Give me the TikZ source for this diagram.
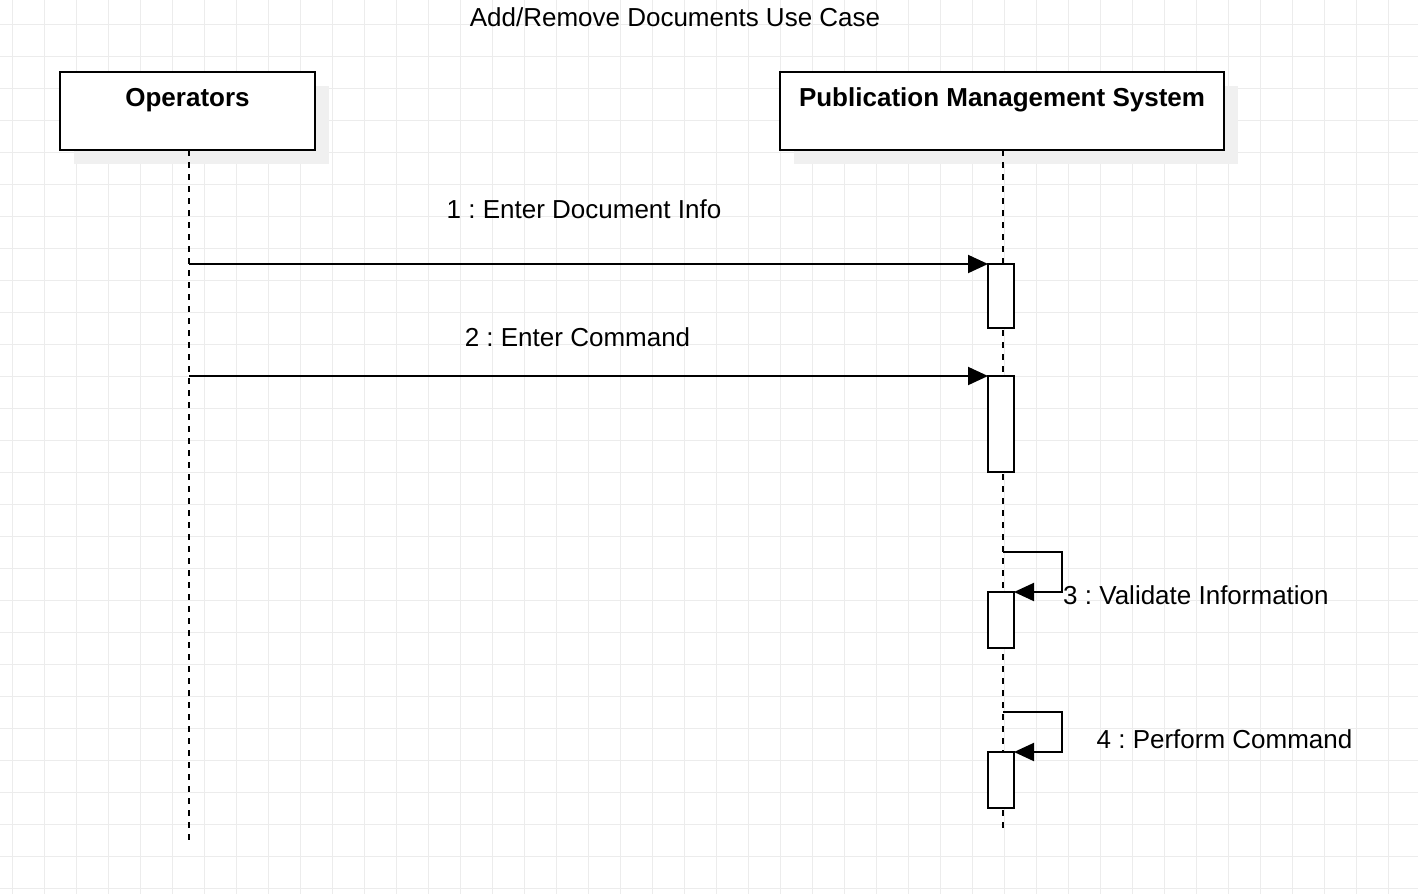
\documentclass[tikz,border=0pt]{standalone}
\usepackage{fontspec}
\setmainfont{Liberation Sans}
\frenchspacing
\usetikzlibrary{arrows.meta,shadows}
\definecolor{gridc}{RGB}{236,236,236}
\definecolor{shadowc}{RGB}{240,240,240}
\tikzset{
  gridline/.style={draw=gridc,line width=1pt},
  actorbox/.style={draw=black,fill=white,line width=2pt,inner sep=0pt,outer sep=0pt,
    drop shadow={shadow xshift=14pt,shadow yshift=-14pt,fill=shadowc,opacity=1}},
  lifeline/.style={draw=black,line width=2pt,dash pattern=on 6pt off 6pt},
  actbox/.style={draw=black,fill=white,line width=2pt,inner sep=0pt,outer sep=0pt,minimum width=26pt},
  msg/.style={draw=black,line width=2pt,-{Triangle[length=20pt,width=18pt]}},
  txt/.style={inner sep=0pt,font=\fontsize{26}{31}\selectfont},
  boldtxt/.style={inner sep=0pt,font=\fontsize{26}{31}\selectfont\bfseries},
}
\begin{document}
\begin{tikzpicture}[x=1pt,y=-1pt]
\useasboundingbox (0,0) rectangle (1418,894);
\fill[white] (0,0) rectangle (1418,894);
% grid
\foreach \i in {0,...,44} \draw[gridline] ({12.5+32*\i},0) -- ({12.5+32*\i},894);
\foreach \j in {0,...,27} \draw[gridline] (0,{24+32*\j}) -- (1418,{24+32*\j});
% title
\node[txt,anchor=base] (title) at (675,26) {Add/Remove Documents Use Case};
% actors
\node[actorbox,minimum width=255pt,minimum height=78pt] (op) at (187.5,111) {};
\node[boldtxt,anchor=base] (oplbl) at (187.5,106) {Operators};
\node[actorbox,minimum width=444pt,minimum height=78pt] (pms) at (1002,111) {};
\node[boldtxt,anchor=base] (pmslbl) at (1002,106) {Publication Management System};
% lifelines
\coordinate (opend) at (189,840);
\coordinate (pmsend) at (1003,830);
\draw[lifeline] (opend |- op.south) -- (opend);
\draw[lifeline] (pmsend |- pms.south) -- (pmsend);
% activations
\node[actbox,minimum height=64pt] (act1) at (1001,296) {};
\node[actbox,minimum height=96pt] (act2) at (1001,424) {};
\node[actbox,minimum height=56pt] (act3) at (1001,620) {};
\node[actbox,minimum height=56pt] (act4) at (1001,780) {};
% messages
\coordinate (m1) at (189,264);
\coordinate (m2) at (189,376);
\draw[msg] (m1) -- (act1.north west);
\draw[msg] (m2) -- (act2.north west);
\node[txt,anchor=base] (l1) at (584,218) {1 : Enter Document Info};
\node[txt,anchor=base] (l2) at (577.5,346) {2 : Enter Command};
% self messages
\coordinate (s3) at (1003,552);
\coordinate (t3) at (1062,592);
\draw[msg] (s3) -| (t3) -- (act3.north east);
\node[txt,anchor=base west] (l3) at (1063,604) {3 : Validate Information};
\coordinate (s4) at (1003,712);
\coordinate (t4) at (1062,752);
\draw[msg] (s4) -| (t4) -- (act4.north east);
\node[txt,anchor=base] (l4) at (1224.5,748) {4 : Perform Command};
\end{tikzpicture}
\end{document}
